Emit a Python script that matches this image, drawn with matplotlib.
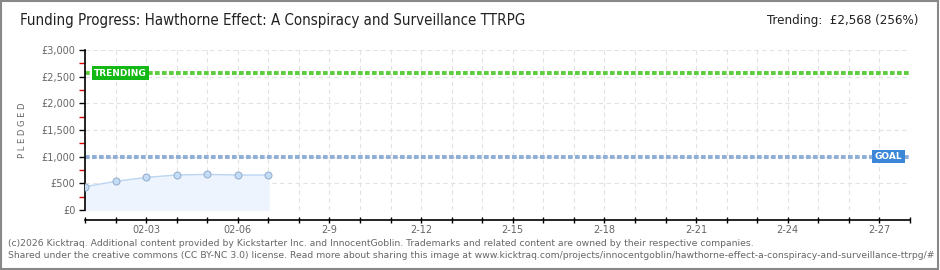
import matplotlib
matplotlib.use("Agg")
import matplotlib.pyplot as plt
from matplotlib.patches import Rectangle

# data
days = [1, 2, 3, 4, 5, 6, 7]
pledged = [437, 537, 612, 656, 668, 656, 656]
goal = 1000
trending = 2568
tick_days = list(range(1, 29))
label_days = [3, 6, 9, 12, 15, 18, 21, 24, 27]
label_text = ["02-03", "02-06", "2-9", "2-12", "2-15", "2-18", "2-21", "2-24", "2-27"]
y_ticks = [0, 500, 1000, 1500, 2000, 2500, 3000]
y_labels = ["£0", "£500", "£1,000", "£1,500", "£2,000", "£2,500", "£3,000"]

fig = plt.figure(figsize=(9.4, 2.7), dpi=100)
fig.patches.append(Rectangle((0.001, 0.002), 0.997, 0.995, transform=fig.transFigure,
                             fill=False, edgecolor="#888888", linewidth=1.5))

ax = fig.add_axes([85 / 940, 60 / 270, 825 / 940, 160 / 270])
ax.set_xlim(1, 28)
ax.set_ylim(0, 3000)

# grid
for d in tick_days:
    ax.axvline(d, color="#e2e2e2", linestyle=(0, (4, 3)), linewidth=0.8, zorder=0)
for v in y_ticks:
    ax.axhline(v, color="#e2e2e2", linestyle=(0, (4, 3)), linewidth=0.8, zorder=0)

# goal and trending lines
ax.axhline(trending, color="#5ccc3c", linestyle=(0, (1.2, 0.6)), linewidth=2.8, zorder=2)
ax.axhline(goal, color="#8eaed8", linestyle=(0, (1.2, 0.6)), linewidth=2.8, zorder=2)

# pledges
ax.fill_between(days, pledged, 0, color="#edf4fd", zorder=1)
ax.plot(days, pledged, color="#bcd6f2", linewidth=1, zorder=3)
ax.plot(days, pledged, "o", markersize=5, markerfacecolor="#c4dcf6",
        markeredgecolor="#98b2d0", markeredgewidth=0.8, zorder=4)

# labels on the lines
ax.text(1.3, trending, "TRENDING", color="white", fontsize=6.5, fontweight="bold",
        va="center", ha="left", zorder=5,
        bbox=dict(boxstyle="square,pad=0.25", facecolor="#14b814", edgecolor="none"))
ax.text(27.75, goal, "GOAL", color="white", fontsize=6.5, fontweight="bold",
        va="center", ha="right", zorder=5,
        bbox=dict(boxstyle="square,pad=0.25", facecolor="#3c86d8", edgecolor="none"))

# axes styling
for s in ["top", "right"]:
    ax.spines[s].set_visible(False)
ax.spines["left"].set_color("black")
ax.spines["bottom"].set_color("black")
ax.spines["bottom"].set_position(("outward", 7.5))
ax.spines["bottom"].set_linewidth(1.2)
ax.spines["left"].set_linewidth(1.2)

ax.set_yticks(y_ticks)
ax.set_yticklabels(y_labels)
ax.set_yticks([250, 750, 1250, 1750, 2250, 2750], minor=True)
ax.tick_params(axis="y", which="major", length=4, width=1, color="black",
               labelsize=7, labelcolor="#666666", pad=3)
ax.tick_params(axis="y", which="minor", length=4, width=1, color="#dd0000")

ax.set_xticks(tick_days)
ax.set_xticklabels([label_text[label_days.index(d)] if d in label_days else "" for d in tick_days])
ax.tick_params(axis="x", direction="inout", length=5, width=1, color="black", labelsize=7,
               labelcolor="#666666", pad=1)

ax.set_ylabel("P L E D G E D", fontsize=6, color="#666666", labelpad=10)

fig.text(20 / 940, 1 - 21 / 270, "Funding Progress: Hawthorne Effect: A Conspiracy and Surveillance TTRPG",
         fontsize=10.8, fontstretch="condensed", color="#222222", va="center", ha="left")
fig.text(918 / 940, 1 - 21 / 270, "Trending:  £2,568 (256%)",
         fontsize=9.5, fontstretch="condensed", color="#222222", va="center", ha="right")

fig.text(8 / 940, 1 - 243 / 270,
         "(c)2026 Kicktraq. Additional content provided by Kickstarter Inc. and InnocentGoblin. "
         "Trademarks and related content are owned by their respective companies.",
         fontsize=6.7, color="#666666", va="center", ha="left")
fig.text(8 / 940, 1 - 256 / 270,
         "Shared under the creative commons (CC BY-NC 3.0) license. Read more about sharing this image at "
         "www.kicktraq.com/projects/innocentgoblin/hawthorne-effect-a-conspiracy-and-surveillance-ttrpg/#",
         fontsize=6.7, color="#666666", va="center", ha="left")

fig.savefig("out.png", dpi=100)
